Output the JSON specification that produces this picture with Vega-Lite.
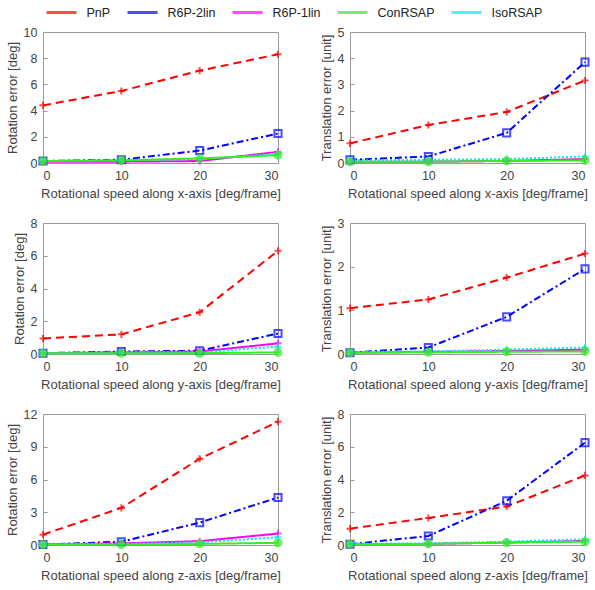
{
  "$schema": "https://vega.github.io/schema/vega-lite/v6.json",
  "background": "white",
  "padding": {"left": 5, "top": -4, "right": 5, "bottom": 5},
  "config": {
    "font": "Liberation Sans",
    "view": {"stroke": "#9a9a9a", "strokeWidth": 1},
    "axis": {
      "grid": false, "domain": false, "ticks": true, "tickSize": -4, "tickColor": "#999",
      "labelFontSize": 12.5, "labelColor": "#444", "titleFontSize": 13, "titleFontWeight": "normal",
      "titleColor": "#444", "labelPadding": 10
    },
    "legend": {"titleFontSize": 0}
  },
  "datasets": {
    "d": [
      {"p":"A","m":"PnP","s":0,"e":4.4},{"p":"A","m":"PnP","s":10,"e":5.5},{"p":"A","m":"PnP","s":20,"e":7.05},{"p":"A","m":"PnP","s":30,"e":8.3},
      {"p":"A","m":"R6P-2lin","s":0,"e":0.15},{"p":"A","m":"R6P-2lin","s":10,"e":0.25},{"p":"A","m":"R6P-2lin","s":20,"e":0.95},{"p":"A","m":"R6P-2lin","s":30,"e":2.25},
      {"p":"A","m":"R6P-1lin","s":0,"e":0.1},{"p":"A","m":"R6P-1lin","s":10,"e":0.1},{"p":"A","m":"R6P-1lin","s":20,"e":0.15},{"p":"A","m":"R6P-1lin","s":30,"e":0.85},
      {"p":"A","m":"IsoRSAP","s":0,"e":0.15},{"p":"A","m":"IsoRSAP","s":10,"e":0.2},{"p":"A","m":"IsoRSAP","s":20,"e":0.3},{"p":"A","m":"IsoRSAP","s":30,"e":0.7},
      {"p":"A","m":"ConRSAP","s":0,"e":0.15},{"p":"A","m":"ConRSAP","s":10,"e":0.2},{"p":"A","m":"ConRSAP","s":20,"e":0.35},{"p":"A","m":"ConRSAP","s":30,"e":0.6},

      {"p":"B","m":"PnP","s":0,"e":0.75},{"p":"B","m":"PnP","s":10,"e":1.45},{"p":"B","m":"PnP","s":20,"e":1.95},{"p":"B","m":"PnP","s":30,"e":3.15},
      {"p":"B","m":"R6P-2lin","s":0,"e":0.12},{"p":"B","m":"R6P-2lin","s":10,"e":0.25},{"p":"B","m":"R6P-2lin","s":20,"e":1.15},{"p":"B","m":"R6P-2lin","s":30,"e":3.85},
      {"p":"B","m":"R6P-1lin","s":0,"e":0.05},{"p":"B","m":"R6P-1lin","s":10,"e":0.05},{"p":"B","m":"R6P-1lin","s":20,"e":0.08},{"p":"B","m":"R6P-1lin","s":30,"e":0.15},
      {"p":"B","m":"IsoRSAP","s":0,"e":0.1},{"p":"B","m":"IsoRSAP","s":10,"e":0.12},{"p":"B","m":"IsoRSAP","s":20,"e":0.15},{"p":"B","m":"IsoRSAP","s":30,"e":0.25},
      {"p":"B","m":"ConRSAP","s":0,"e":0.05},{"p":"B","m":"ConRSAP","s":10,"e":0.05},{"p":"B","m":"ConRSAP","s":20,"e":0.08},{"p":"B","m":"ConRSAP","s":30,"e":0.1},

      {"p":"C","m":"PnP","s":0,"e":0.95},{"p":"C","m":"PnP","s":10,"e":1.2},{"p":"C","m":"PnP","s":20,"e":2.55},{"p":"C","m":"PnP","s":30,"e":6.3},
      {"p":"C","m":"R6P-2lin","s":0,"e":0.05},{"p":"C","m":"R6P-2lin","s":10,"e":0.15},{"p":"C","m":"R6P-2lin","s":20,"e":0.2},{"p":"C","m":"R6P-2lin","s":30,"e":1.25},
      {"p":"C","m":"R6P-1lin","s":0,"e":0.05},{"p":"C","m":"R6P-1lin","s":10,"e":0.1},{"p":"C","m":"R6P-1lin","s":20,"e":0.15},{"p":"C","m":"R6P-1lin","s":30,"e":0.65},
      {"p":"C","m":"IsoRSAP","s":0,"e":0.05},{"p":"C","m":"IsoRSAP","s":10,"e":0.1},{"p":"C","m":"IsoRSAP","s":20,"e":0.1},{"p":"C","m":"IsoRSAP","s":30,"e":0.45},
      {"p":"C","m":"ConRSAP","s":0,"e":0.05},{"p":"C","m":"ConRSAP","s":10,"e":0.05},{"p":"C","m":"ConRSAP","s":20,"e":0.05},{"p":"C","m":"ConRSAP","s":30,"e":0.1},

      {"p":"D","m":"PnP","s":0,"e":1.05},{"p":"D","m":"PnP","s":10,"e":1.25},{"p":"D","m":"PnP","s":20,"e":1.75},{"p":"D","m":"PnP","s":30,"e":2.3},
      {"p":"D","m":"R6P-2lin","s":0,"e":0.03},{"p":"D","m":"R6P-2lin","s":10,"e":0.15},{"p":"D","m":"R6P-2lin","s":20,"e":0.85},{"p":"D","m":"R6P-2lin","s":30,"e":1.95},
      {"p":"D","m":"R6P-1lin","s":0,"e":0.03},{"p":"D","m":"R6P-1lin","s":10,"e":0.05},{"p":"D","m":"R6P-1lin","s":20,"e":0.07},{"p":"D","m":"R6P-1lin","s":30,"e":0.1},
      {"p":"D","m":"IsoRSAP","s":0,"e":0.04},{"p":"D","m":"IsoRSAP","s":10,"e":0.06},{"p":"D","m":"IsoRSAP","s":20,"e":0.1},{"p":"D","m":"IsoRSAP","s":30,"e":0.15},
      {"p":"D","m":"ConRSAP","s":0,"e":0.03},{"p":"D","m":"ConRSAP","s":10,"e":0.04},{"p":"D","m":"ConRSAP","s":20,"e":0.05},{"p":"D","m":"ConRSAP","s":30,"e":0.06},

      {"p":"E","m":"PnP","s":0,"e":0.95},{"p":"E","m":"PnP","s":10,"e":3.4},{"p":"E","m":"PnP","s":20,"e":7.9},{"p":"E","m":"PnP","s":30,"e":11.3},
      {"p":"E","m":"R6P-2lin","s":0,"e":0.05},{"p":"E","m":"R6P-2lin","s":10,"e":0.3},{"p":"E","m":"R6P-2lin","s":20,"e":2.05},{"p":"E","m":"R6P-2lin","s":30,"e":4.35},
      {"p":"E","m":"R6P-1lin","s":0,"e":0.05},{"p":"E","m":"R6P-1lin","s":10,"e":0.15},{"p":"E","m":"R6P-1lin","s":20,"e":0.35},{"p":"E","m":"R6P-1lin","s":30,"e":1.05},
      {"p":"E","m":"IsoRSAP","s":0,"e":0.05},{"p":"E","m":"IsoRSAP","s":10,"e":0.1},{"p":"E","m":"IsoRSAP","s":20,"e":0.25},{"p":"E","m":"IsoRSAP","s":30,"e":0.7},
      {"p":"E","m":"ConRSAP","s":0,"e":0.05},{"p":"E","m":"ConRSAP","s":10,"e":0.05},{"p":"E","m":"ConRSAP","s":20,"e":0.1},{"p":"E","m":"ConRSAP","s":30,"e":0.2},

      {"p":"F","m":"PnP","s":0,"e":1.0},{"p":"F","m":"PnP","s":10,"e":1.65},{"p":"F","m":"PnP","s":20,"e":2.35},{"p":"F","m":"PnP","s":30,"e":4.25},
      {"p":"F","m":"R6P-2lin","s":0,"e":0.05},{"p":"F","m":"R6P-2lin","s":10,"e":0.55},{"p":"F","m":"R6P-2lin","s":20,"e":2.7},{"p":"F","m":"R6P-2lin","s":30,"e":6.25},
      {"p":"F","m":"R6P-1lin","s":0,"e":0.05},{"p":"F","m":"R6P-1lin","s":10,"e":0.07},{"p":"F","m":"R6P-1lin","s":20,"e":0.15},{"p":"F","m":"R6P-1lin","s":30,"e":0.25},
      {"p":"F","m":"IsoRSAP","s":0,"e":0.07},{"p":"F","m":"IsoRSAP","s":10,"e":0.1},{"p":"F","m":"IsoRSAP","s":20,"e":0.2},{"p":"F","m":"IsoRSAP","s":30,"e":0.35},
      {"p":"F","m":"ConRSAP","s":0,"e":0.05},{"p":"F","m":"ConRSAP","s":10,"e":0.07},{"p":"F","m":"ConRSAP","s":20,"e":0.15},{"p":"F","m":"ConRSAP","s":30,"e":0.2}
    ]
  },
  "data": {"name": "d"},
  "columns": 2,
  "spacing": {"row": 15, "column": 32},
  "concat": [
    {
      "width": 235, "height": 131,
      "transform": [{"filter": "datum.p == 'A'"}],
      "encoding": {
        "x": {"field": "s", "type": "quantitative", "scale": {"domain": [0, 30]}, "axis": {"values": [0, 10, 20, 30], "title": "Rotational speed along x-axis [deg/frame]", "titlePadding": 6}},
        "y": {"field": "e", "type": "quantitative", "scale": {"domain": [0, 10]}, "axis": {"values": [0, 2, 4, 6, 8, 10], "title": "Rotation error [deg]", "titlePadding": 4}},
        "color": {"field": "m", "type": "nominal", "scale": {"domain": ["PnP", "R6P-2lin", "R6P-1lin", "ConRSAP", "IsoRSAP"], "range": ["#ff0000", "#0000ff", "#ff00ff", "#33ee22", "#00eeee"]},
          "legend": {"title": null, "orient": "none", "legendX": 2, "legendY": -36, "direction": "horizontal", "symbolType": "stroke", "symbolStrokeWidth": 3, "symbolSize": 900, "labelFontSize": 12.5, "labelColor": "#222", "labelOffset": 8.5, "columnPadding": 10}}
      },
      "layer": [
        {"mark": {"type": "line", "strokeWidth": 2}, "encoding": {"strokeDash": {"field": "m", "type": "nominal", "legend": null, "scale": {"domain": ["IsoRSAP", "ConRSAP", "R6P-1lin", "R6P-2lin", "PnP"], "range": [[2,2],[1,0],[1,0],[7,3,2,3],[8,5]]}}}},
        {"mark": {"type": "point", "filled": false, "strokeWidth": 2, "size": 50}, "encoding": {"fill": {"condition": {"test": "datum.m == 'ConRSAP'", "value": "#33ee22"}, "value": "transparent"}, "shape": {"field": "m", "type": "nominal", "legend": null, "scale": {"domain": ["R6P-2lin", "PnP", "R6P-1lin", "IsoRSAP", "ConRSAP"], "range": ["square", "M-1,0H1M0,-1V1", "M-1,0H1M0,-1V1", "M-1,0H1M0,-1V1", "circle"]}}}}
      ]
    },
    {
      "width": 235, "height": 131,
      "transform": [{"filter": "datum.p == 'B'"}],
      "encoding": {
        "x": {"field": "s", "type": "quantitative", "scale": {"domain": [0, 30]}, "axis": {"values": [0, 10, 20, 30], "title": "Rotational speed along x-axis [deg/frame]", "titlePadding": 6}},
        "y": {"field": "e", "type": "quantitative", "scale": {"domain": [0, 5]}, "axis": {"values": [0, 1, 2, 3, 4, 5], "title": "Translation error [unit]", "titlePadding": 4}},
        "color": {"field": "m", "type": "nominal"}
      },
      "layer": [
        {"mark": {"type": "line", "strokeWidth": 2}, "encoding": {"strokeDash": {"field": "m", "type": "nominal", "legend": null}}},
        {"mark": {"type": "point", "filled": false, "strokeWidth": 2, "size": 50}, "encoding": {"fill": {"condition": {"test": "datum.m == 'ConRSAP'", "value": "#33ee22"}, "value": "transparent"}, "shape": {"field": "m", "type": "nominal", "legend": null}}}
      ]
    },
    {
      "width": 235, "height": 131,
      "transform": [{"filter": "datum.p == 'C'"}],
      "encoding": {
        "x": {"field": "s", "type": "quantitative", "scale": {"domain": [0, 30]}, "axis": {"values": [0, 10, 20, 30], "title": "Rotational speed along y-axis [deg/frame]", "titlePadding": 6}},
        "y": {"field": "e", "type": "quantitative", "scale": {"domain": [0, 8]}, "axis": {"values": [0, 2, 4, 6, 8], "title": "Rotation error [deg]", "titlePadding": 4}},
        "color": {"field": "m", "type": "nominal"}
      },
      "layer": [
        {"mark": {"type": "line", "strokeWidth": 2}, "encoding": {"strokeDash": {"field": "m", "type": "nominal", "legend": null}}},
        {"mark": {"type": "point", "filled": false, "strokeWidth": 2, "size": 50}, "encoding": {"fill": {"condition": {"test": "datum.m == 'ConRSAP'", "value": "#33ee22"}, "value": "transparent"}, "shape": {"field": "m", "type": "nominal", "legend": null}}}
      ]
    },
    {
      "width": 235, "height": 131,
      "transform": [{"filter": "datum.p == 'D'"}],
      "encoding": {
        "x": {"field": "s", "type": "quantitative", "scale": {"domain": [0, 30]}, "axis": {"values": [0, 10, 20, 30], "title": "Rotational speed along y-axis [deg/frame]", "titlePadding": 6}},
        "y": {"field": "e", "type": "quantitative", "scale": {"domain": [0, 3]}, "axis": {"values": [0, 1, 2, 3], "title": "Translation error [unit]", "titlePadding": 4}},
        "color": {"field": "m", "type": "nominal"}
      },
      "layer": [
        {"mark": {"type": "line", "strokeWidth": 2}, "encoding": {"strokeDash": {"field": "m", "type": "nominal", "legend": null}}},
        {"mark": {"type": "point", "filled": false, "strokeWidth": 2, "size": 50}, "encoding": {"fill": {"condition": {"test": "datum.m == 'ConRSAP'", "value": "#33ee22"}, "value": "transparent"}, "shape": {"field": "m", "type": "nominal", "legend": null}}}
      ]
    },
    {
      "width": 235, "height": 131,
      "transform": [{"filter": "datum.p == 'E'"}],
      "encoding": {
        "x": {"field": "s", "type": "quantitative", "scale": {"domain": [0, 30]}, "axis": {"values": [0, 10, 20, 30], "title": "Rotational speed along z-axis [deg/frame]", "titlePadding": 6}},
        "y": {"field": "e", "type": "quantitative", "scale": {"domain": [0, 12]}, "axis": {"values": [0, 3, 6, 9, 12], "title": "Rotation error [deg]", "titlePadding": 4}},
        "color": {"field": "m", "type": "nominal"}
      },
      "layer": [
        {"mark": {"type": "line", "strokeWidth": 2}, "encoding": {"strokeDash": {"field": "m", "type": "nominal", "legend": null}}},
        {"mark": {"type": "point", "filled": false, "strokeWidth": 2, "size": 50}, "encoding": {"fill": {"condition": {"test": "datum.m == 'ConRSAP'", "value": "#33ee22"}, "value": "transparent"}, "shape": {"field": "m", "type": "nominal", "legend": null}}}
      ]
    },
    {
      "width": 235, "height": 131,
      "transform": [{"filter": "datum.p == 'F'"}],
      "encoding": {
        "x": {"field": "s", "type": "quantitative", "scale": {"domain": [0, 30]}, "axis": {"values": [0, 10, 20, 30], "title": "Rotational speed along z-axis [deg/frame]", "titlePadding": 6}},
        "y": {"field": "e", "type": "quantitative", "scale": {"domain": [0, 8]}, "axis": {"values": [0, 2, 4, 6, 8], "title": "Translation error [unit]", "titlePadding": 4}},
        "color": {"field": "m", "type": "nominal"}
      },
      "layer": [
        {"mark": {"type": "line", "strokeWidth": 2}, "encoding": {"strokeDash": {"field": "m", "type": "nominal", "legend": null}}},
        {"mark": {"type": "point", "filled": false, "strokeWidth": 2, "size": 50}, "encoding": {"fill": {"condition": {"test": "datum.m == 'ConRSAP'", "value": "#33ee22"}, "value": "transparent"}, "shape": {"field": "m", "type": "nominal", "legend": null}}}
      ]
    }
  ]
}
